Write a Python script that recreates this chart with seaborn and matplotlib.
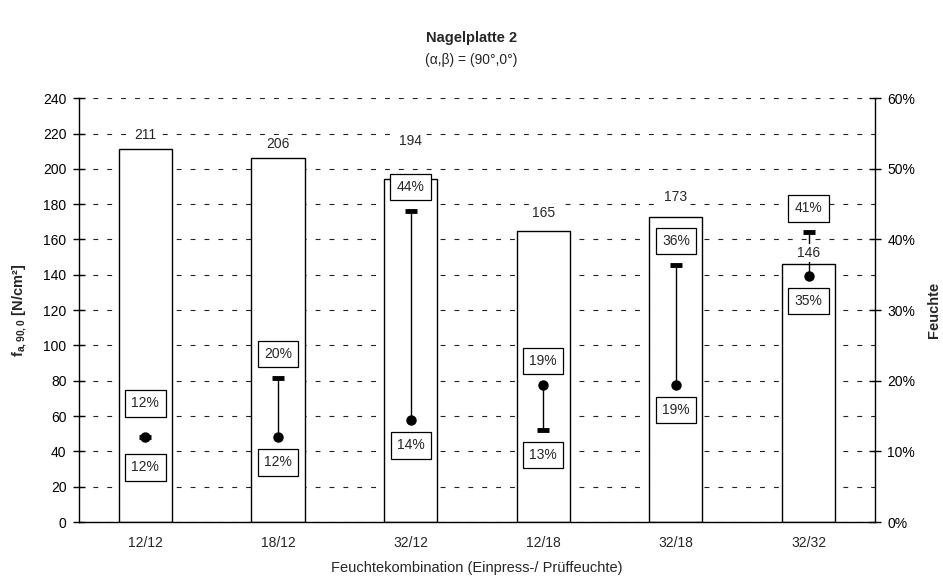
import numpy as np
import matplotlib
matplotlib.use("Agg")
import matplotlib.pyplot as plt
import seaborn as sns

# Werte
categories = ["12/12", "18/12", "32/12", "12/18", "32/18", "32/32"]
festigkeit = [211, 206, 194, 165, 173, 146]           # f_a,90,0 [N/cm²]
einpress_feuchte = [12.0, 20.4, 44.0, 13.0, 36.4, 41.0]  # %
pruef_feuchte = [12.0, 12.0, 14.4, 19.4, 19.4, 34.8]     # %
y_ticks = list(range(0, 241, 20))
feuchte_ticks = [0, 10, 20, 30, 40, 50, 60]

sns.set_style("white")
plt.rcParams["font.family"] = ["Liberation Sans", "DejaVu Sans"]
plt.rcParams["mathtext.fontset"] = "custom"
plt.rcParams["mathtext.rm"] = "Liberation Sans"
plt.rcParams["mathtext.bf"] = "Liberation Sans:bold"
plt.rcParams["lines.scale_dashes"] = False

fig = plt.figure(figsize=(9.43, 5.79), dpi=100)
ax = fig.add_axes([0.0838, 0.0984, 0.844, 0.732])

ax.yaxis.grid(True, linestyle=(0, (3.5, 6.5)), color="#222222", linewidth=0.8)
ax.set_axisbelow(True)
sns.barplot(x=categories, y=festigkeit, color="white", edgecolor="black",
            linewidth=1.0, width=0.4, saturation=1, ax=ax)

ax.set_xlim(-0.5, len(categories) - 0.5)
ax.set_ylim(0, 240)
ax.set_yticks(y_ticks)
ax.set_xticks(np.arange(-0.5, len(categories), 1), minor=True)
ax.tick_params(axis="y", direction="inout", length=8, width=1, labelsize=10, pad=5, colors="black")
ax.tick_params(axis="x", which="major", length=0, labelsize=10, pad=10)
ax.tick_params(axis="x", which="minor", direction="inout", length=8, width=1)
for s in ["top", "right"]:
    ax.spines[s].set_visible(False)
for s in ["left", "bottom"]:
    ax.spines[s].set_color("black")
    ax.spines[s].set_linewidth(1.0)

ax.set_xlabel("Feuchtekombination (Einpress-/ Prüffeuchte)", fontsize=10.5, va="center")
ax.xaxis.set_label_coords(0.5, -0.108)
ax.set_ylabel(r"$\mathbf{f_{a,90,0}}$ [N/cm²]", fontsize=10.5, fontweight="bold", va="center")
ax.yaxis.set_label_coords(-0.074, 0.5)

# zweite Achse: Feuchte
ax2 = ax.twinx()
ax2.set_ylim(0, 60)
ax2.set_yticks(feuchte_ticks)
ax2.set_yticklabels([f"{t}%" for t in feuchte_ticks])
ax2.tick_params(axis="y", direction="inout", length=8, width=1, labelsize=10, pad=5, colors="black")
for s in ["top", "left", "bottom"]:
    ax2.spines[s].set_visible(False)
ax2.spines["right"].set_color("black")
ax2.spines["right"].set_linewidth(1.0)
ax2.set_ylabel("Feuchte", fontsize=10.5, fontweight="bold", va="center")
ax2.yaxis.set_label_coords(1.074, 0.5)

xpos = np.arange(len(categories))
ax2.vlines(xpos, pruef_feuchte, einpress_feuchte, color="black", linewidth=1.0)
ax2.plot(xpos, einpress_feuchte, ls="none", marker="_", ms=9, mew=3.5, color="black")
ax2.plot(xpos, pruef_feuchte, ls="none", marker="o", ms=6.5, color="black")

box = dict(boxstyle="square,pad=0.45", fc="white", ec="black", lw=0.9)
for i, (e, p) in enumerate(zip(einpress_feuchte, pruef_feuchte)):
    hi, lo = max(e, p), min(e, p)
    up, down = (34, 30) if e == p else (24, 25)
    ax2.annotate(f"{hi:.0f}%", (i, hi), xytext=(0, up), textcoords="offset pixels",
                 ha="center", va="center", fontsize=10, bbox=box)
    ax2.annotate(f"{lo:.0f}%", (i, lo), xytext=(0, -down), textcoords="offset pixels",
                 ha="center", va="center", fontsize=10, bbox=box)

# Balkenbeschriftung (auf ax2, damit sie die Linien ueberdeckt)
label_offset = [14, 14, 38, 18, 20, 11]
for i, v in enumerate(festigkeit):
    ax2.annotate(str(v), (i, v), xycoords=ax.transData, xytext=(0, label_offset[i]),
                 textcoords="offset pixels", ha="center", va="center", fontsize=10,
                 bbox=dict(boxstyle="square,pad=0.15", fc="white", ec="none"))

fig.text(0.5, 0.934, "Nagelplatte 2", ha="center", va="center", fontsize=10.5, fontweight="bold")
fig.text(0.5, 0.897, "(α,β) = (90°,0°)", ha="center", va="center", fontsize=10)

fig.savefig("out.png", dpi=100, facecolor="white")
